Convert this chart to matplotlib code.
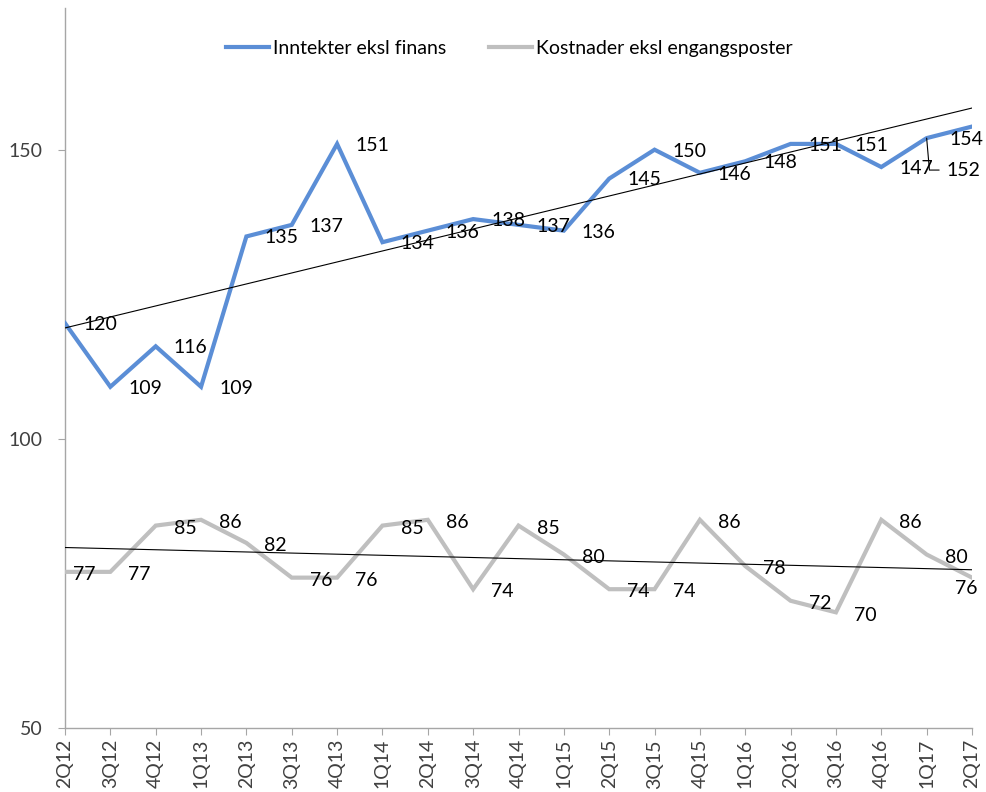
import numpy as np
import matplotlib
matplotlib.use("Agg")
import matplotlib.pyplot as plt

plt.rcParams['font.family'] = ['Lato', 'DejaVu Sans']

quarters = ["2Q12", "3Q12", "4Q12", "1Q13", "2Q13", "3Q13", "4Q13", "1Q14", "2Q14", "3Q14",
            "4Q14", "1Q15", "2Q15", "3Q15", "4Q15", "1Q16", "2Q16", "3Q16", "4Q16", "1Q17", "2Q17"]
inntekter = [120, 109, 116, 109, 135, 137, 151, 134, 136, 138, 137, 136, 145, 150, 146, 148,
             151, 151, 147, 152, 154]
kostnader = [77, 77, 85, 86, 82, 76, 76, 85, 86, 74, 85, 80, 74, 74, 86, 78, 72, 70, 86, 80, 76]
yticks = [50, 100, 150]

blue = "#5B8ED6"
gray = "#BFBFBF"
axcol = "#A6A6A6"

fig = plt.figure(figsize=(9.86, 7.92), dpi=100)
ax = fig.add_axes([65/986, 1 - 728/792, (972 - 65)/986, (728 - 8)/792])

x = np.arange(len(quarters))
ax.plot(x, inntekter, color=blue, lw=3, label="Inntekter eksl finans", solid_joinstyle='miter', zorder=3)
ax.plot(x, kostnader, color=gray, lw=3, label="Kostnader eksl engangsposter", solid_joinstyle='miter', zorder=3)

# linear trend lines
for ser in (inntekter, kostnader):
    k, m = np.polyfit(x, ser, 1)
    ax.plot(x, k * x + m, color="black", lw=0.8, zorder=4)

fs = 14
ax.set_xlim(0, len(quarters) - 1)
ax.set_ylim(50, 174.5)
ax.set_yticks(yticks)
ax.set_xticks(x)
ax.set_xticklabels(quarters, rotation=90, fontsize=fs, color="#404040")
ax.tick_params(axis='y', labelsize=fs, labelcolor="#404040", length=5, color=axcol, pad=11)
ax.tick_params(axis='x', length=5, color=axcol, pad=3)
for s in ("top", "right"):
    ax.spines[s].set_visible(False)
for s in ("left", "bottom"):
    ax.spines[s].set_color(axcol)
    ax.spines[s].set_linewidth(1)

# data labels (right of point)
for i, v in enumerate(inntekter):
    if i >= len(quarters) - 2:
        continue
    ax.annotate(str(v), (i, v), xytext=(13, -1), textcoords="offset points",
                ha="left", va="center", fontsize=fs, color="black", zorder=5)
for i, v in enumerate(kostnader):
    if i == len(quarters) - 1:
        continue
    dx = 6 if i == 0 else 13
    ax.annotate(str(v), (i, v), xytext=(dx, -2), textcoords="offset points",
                ha="left", va="center", fontsize=fs, color="black", zorder=5)

n = len(quarters) - 1
# last labels (shifted)
ax.annotate(str(inntekter[n]), (n, inntekter[n]), xytext=(-4, -9), textcoords="offset points",
            ha="center", va="center", fontsize=fs, color="black", zorder=5)
ax.annotate(str(kostnader[n]), (n, kostnader[n]), xytext=(-4, -8), textcoords="offset points",
            ha="center", va="center", fontsize=fs, color="black", zorder=5)
# moved label with leader line
ax.annotate(str(inntekter[n - 1]), (n - 1, inntekter[n - 1]), xytext=(14, -23),
            textcoords="offset points", ha="left", va="center", fontsize=fs, color="black",
            arrowprops=dict(arrowstyle="-", color="black", lw=0.8,
                            connectionstyle="angle,angleA=0,angleB=95,rad=0",
                            shrinkA=3, shrinkB=0), zorder=5)

leg = ax.legend(loc="upper center", bbox_to_anchor=(0.49, 0.98), ncol=2, frameon=False,
                fontsize=fs, handlelength=2.2, handletextpad=0.2, columnspacing=2.2)

fig.savefig("out.png", dpi=100)
